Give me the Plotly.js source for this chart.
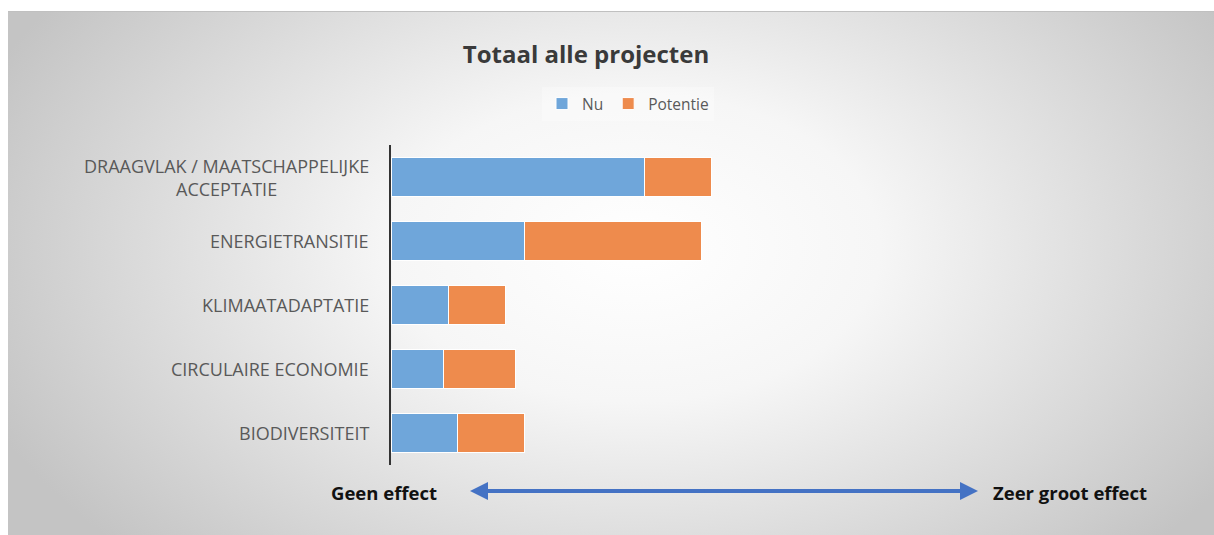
<!DOCTYPE html>
<html>
<head>
<meta charset="utf-8">
<script src="https://cdn.plot.ly/plotly-3.0.1.min.js"></script>
<style>
  html, body { margin: 0; padding: 0; background: #ffffff; }
  #frame {
    position: absolute; left: 8px; top: 11px; width: 1206px; height: 524px;
    border-top: 1px solid #c0c0c0;
    background: radial-gradient(ellipse 700px 440px at 52% 45%, #ffffff 0%, #f6f6f6 35%, #c4c4c4 100%);
  }
  #chart { position: absolute; left: 0; top: 0; width: 1214px; height: 535px; }
</style>
</head>
<body>
<div id="frame"></div>
<div id="chart"></div>
<script>
// Data
const categories = [
  "DRAAGVLAK / MAATSCHAPPELIJKE<br>ACCEPTATIE",
  "ENERGIETRANSITIE",
  "KLIMAATADAPTATIE",
  "CIRCULAIRE ECONOMIE",
  "BIODIVERSITEIT"
];
const nuValues = [25.3, 13.3, 5.7, 5.2, 6.6];
const potentieValues = [6.7, 17.7, 5.7, 7.2, 6.7];
const seriesNames = ["Nu", "Potentie"];
const chartTitle = "Totaal alle projecten";
const leftLabel = "Geen effect";
const rightLabel = "Zeer groot effect";

const labelFont = { family: "Open Sans, sans-serif", size: 18, color: "#595959" };

const traces = [
  {
    type: "bar", orientation: "h", name: seriesNames[0],
    y: categories, x: nuValues,
    marker: { color: "#6fa6da", line: { color: "#ffffff", width: 1 } },
    hoverinfo: "x+name"
  },
  {
    type: "bar", orientation: "h", name: seriesNames[1],
    y: categories, x: potentieValues,
    marker: { color: "#ee8b4d", line: { color: "#ffffff", width: 1 } },
    hoverinfo: "x+name"
  }
];

const annotations = categories.map(c => ({
  xref: "paper", x: 0, xanchor: "right", xshift: -20,
  yref: "y", y: c, yanchor: "middle",
  text: c, align: "center", showarrow: false, font: labelFont
}));

const arrowY = -0.08125;
annotations.push(
  { xref: "paper", yref: "paper", x: 0.1129, y: arrowY, ax: 275, ay: 0, axref: "pixel", ayref: "pixel",
    text: "", showarrow: true, arrowhead: 2, arrowsize: 0.9, arrowwidth: 4, arrowcolor: "#4472c4", standoff: 0 },
  { xref: "paper", yref: "paper", x: 0.8386, y: arrowY, ax: -275, ay: 0, axref: "pixel", ayref: "pixel",
    text: "", showarrow: true, arrowhead: 2, arrowsize: 0.9, arrowwidth: 4, arrowcolor: "#4472c4", standoff: 0 },
  { xref: "paper", yref: "paper", x: (384 - 391) / 700, y: arrowY, xanchor: "center", yanchor: "middle",
    yshift: -1, text: "<b>" + leftLabel + "</b>", showarrow: false,
    font: { family: "Open Sans, sans-serif", size: 18.5, color: "#111111" } },
  { xref: "paper", yref: "paper", x: (1070 - 391) / 700, y: arrowY, xanchor: "center", yanchor: "middle",
    yshift: -1, text: "<b>" + rightLabel + "</b>", showarrow: false,
    font: { family: "Open Sans, sans-serif", size: 18.5, color: "#111111" } }
);

const layout = {
  width: 1214, height: 535,
  paper_bgcolor: "rgba(0,0,0,0)", plot_bgcolor: "rgba(0,0,0,0)",
  margin: { l: 391, r: 123, t: 145, b: 70 },
  barmode: "stack", bargap: 0.406,
  title: {
    text: "<b>" + chartTitle + "</b>",
    x: 586 / 1214, xanchor: "center", y: 1 - 55 / 535, yanchor: "middle",
    font: { family: "Open Sans, sans-serif", size: 24, color: "#3a3a3a" }
  },
  xaxis: {
    range: [0, 70], showgrid: false, zeroline: false, showline: false,
    showticklabels: false, ticks: "", fixedrange: true
  },
  yaxis: {
    autorange: "reversed", showgrid: false, zeroline: false,
    showline: true, linecolor: "#333333", linewidth: 2.5,
    showticklabels: false, ticks: "", fixedrange: true
  },
  legend: {
    orientation: "h", x: (628 - 391) / 700, xanchor: "center",
    y: (465 - 104) / 320, yanchor: "middle",
    bgcolor: "rgba(255,255,255,0.3)",
    font: { family: "Open Sans, sans-serif", size: 15.5, color: "#595959" },
    itemwidth: 30, traceorder: "normal"
  },
  annotations: annotations,
  showlegend: true
};

Plotly.newPlot("chart", traces, layout, { displayModeBar: false, staticPlot: true });
</script>
</body>
</html>
